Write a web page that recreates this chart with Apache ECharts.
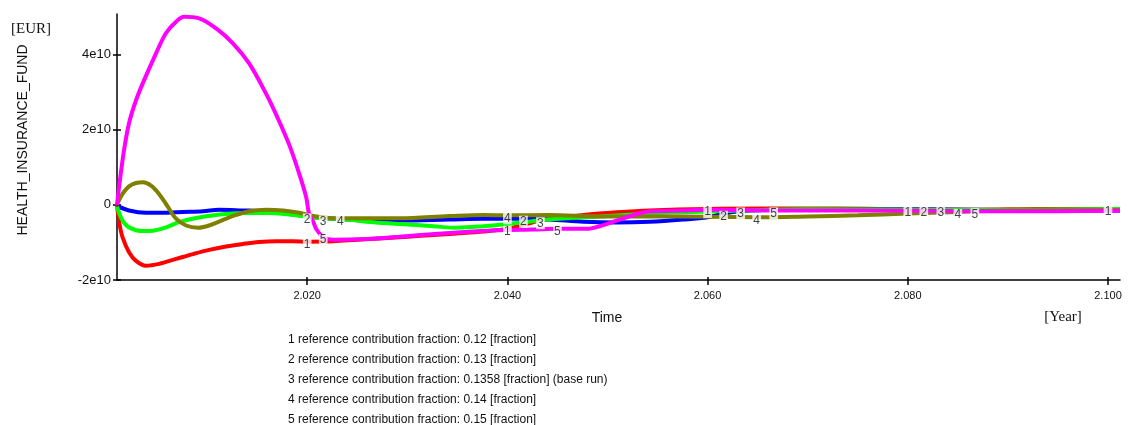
<!DOCTYPE html>
<html><head><meta charset="utf-8">
<script src="https://cdn.jsdelivr.net/npm/echarts@6/dist/echarts.min.js"></script>
<style>html,body{margin:0;padding:0;background:#fff}#c{width:1130px;height:425px}</style>
</head><body><div id="c"></div>
<script>
const seriesNames = ['1','2','3','4','5'];
const legendTexts = [
  '1 reference contribution fraction: 0.12 [fraction]',
  '2 reference contribution fraction: 0.13 [fraction]',
  '3 reference contribution fraction: 0.1358 [fraction] (base run)',
  '4 reference contribution fraction: 0.14 [fraction]',
  '5 reference contribution fraction: 0.15 [fraction]'
];
const colors = ['#ff0000','#0000ff','#00ff00','#808000','#ff00ff'];
const xTicks = [2020, 2040, 2060, 2080, 2100];
const yTicks = [-2e10, 0, 2e10, 4e10];

const s1 = [[2001,0],[2001.25,-0.51e10],[2001.55,-0.86e10],[2002.2,-1.26e10],[2002.9,-1.49e10],[2003.9,-1.62e10],[2005.2,-1.57e10],[2006.9,-1.44e10],[2008.6,-1.31e10],[2010.2,-1.2e10],[2011.9,-1.11e10],[2013.6,-1.04e10],[2015.2,-0.99e10],[2016.9,-0.97e10],[2018.6,-0.97e10],[2020,-0.98e10],[2022.6,-0.97e10],[2025,-0.93e10],[2027.6,-0.89e10],[2030,-0.85e10],[2032.6,-0.8e10],[2035,-0.76e10],[2037.6,-0.71e10],[2040,-0.64e10],[2041.2,-0.56e10],[2042.5,-0.47e10],[2044.2,-0.37e10],[2047.6,-0.27e10],[2050.9,-0.2e10],[2054.2,-0.15e10],[2060,-0.11e10],[2066,-0.1e10],[2073,-0.1e10],[2080,-0.12e10],[2087,-0.13e10],[2093,-0.11e10],[2100,-0.11e10],[2101.2,-0.11e10]];
const s2 = [[2001,-0.03e10],[2002.2,-0.15e10],[2003.9,-0.21e10],[2005.6,-0.21e10],[2007.6,-0.19e10],[2009.6,-0.17e10],[2011.2,-0.13e10],[2013.6,-0.15e10],[2015.6,-0.17e10],[2017.6,-0.22e10],[2020,-0.31e10],[2022,-0.36e10],[2024.2,-0.39e10],[2029.2,-0.42e10],[2034.2,-0.39e10],[2037.6,-0.37e10],[2041.6,-0.37e10],[2044.2,-0.39e10],[2047.6,-0.45e10],[2050.9,-0.47e10],[2054.2,-0.45e10],[2057.6,-0.39e10],[2060,-0.33e10],[2061.6,-0.24e10],[2063,-0.18e10],[2066,-0.14e10],[2070,-0.13e10],[2081.6,-0.12e10],[2090,-0.14e10],[2101.2,-0.15e10]];
const s3 = [[2001,-0.05e10],[2001.55,-0.42e10],[2002.2,-0.6e10],[2003.6,-0.7e10],[2004.6,-0.69e10],[2005.9,-0.6e10],[2007.2,-0.46e10],[2008.9,-0.35e10],[2010.9,-0.27e10],[2013.6,-0.22e10],[2016.2,-0.22e10],[2018.2,-0.26e10],[2019.9,-0.31e10],[2021.6,-0.36e10],[2024.2,-0.4e10],[2025.9,-0.45e10],[2029.2,-0.51e10],[2032.6,-0.57e10],[2034.9,-0.61e10],[2037.6,-0.57e10],[2039.9,-0.51e10],[2041.2,-0.48e10],[2043.3,-0.41e10],[2045.9,-0.36e10],[2049.2,-0.31e10],[2052.6,-0.26e10],[2055.9,-0.21e10],[2060,-0.18e10],[2063.3,-0.15e10],[2070,-0.12e10],[2083.3,-0.13e10],[2090,-0.13e10],[2101.2,-0.11e10]];
const s4 = [[2001,0],[2001.55,0.29e10],[2002.2,0.49e10],[2002.9,0.58e10],[2003.6,0.6e10],[2004.4,0.51e10],[2005.2,0.29e10],[2006.1,-0.06e10],[2006.9,-0.37e10],[2007.9,-0.55e10],[2009.1,-0.61e10],[2010.2,-0.55e10],[2011.6,-0.4e10],[2012.9,-0.27e10],[2014.2,-0.17e10],[2015.9,-0.13e10],[2017.6,-0.15e10],[2019.2,-0.21e10],[2020.9,-0.31e10],[2023.3,-0.36e10],[2029.2,-0.36e10],[2034.2,-0.3e10],[2037.6,-0.27e10],[2040,-0.28e10],[2044.2,-0.27e10],[2049.2,-0.31e10],[2054.2,-0.31e10],[2060,-0.32e10],[2064.9,-0.33e10],[2070,-0.31e10],[2075,-0.28e10],[2080,-0.23e10],[2085,-0.19e10],[2090,-0.15e10],[2101.2,-0.14e10]];
const s5 = [[2001,0],[2001.2,0.46e10],[2001.7,1.45e10],[2002.2,2.17e10],[2002.9,2.78e10],[2003.7,3.31e10],[2004.9,4.03e10],[2005.9,4.57e10],[2006.9,4.87e10],[2007.7,5.0e10],[2009.2,4.96e10],[2010.9,4.69e10],[2012.6,4.29e10],[2014.2,3.76e10],[2015.9,2.95e10],[2017.0,2.34e10],[2018.2,1.6e10],[2019.2,0.83e10],[2019.9,0.2e10],[2020.2,-0.25e10],[2020.6,-0.45e10],[2020.9,-0.64e10],[2021.6,-0.86e10],[2022.6,-0.93e10],[2025.9,-0.91e10],[2029.2,-0.85e10],[2034.2,-0.75e10],[2037.9,-0.69e10],[2040,-0.67e10],[2042.6,-0.66e10],[2045,-0.64e10],[2047.9,-0.64e10],[2049.2,-0.57e10],[2050.9,-0.42e10],[2052.6,-0.27e10],[2054.2,-0.18e10],[2057.6,-0.15e10],[2060,-0.13e10],[2066.6,-0.15e10],[2075,-0.15e10],[2086.7,-0.17e10],[2095,-0.17e10],[2101.2,-0.16e10]];
const allSeries = [s1, s2, s3, s4, s5];
const labelYears = [
  [2020, 2040, 2060, 2080, 2100],
  [2020, 2041.6, 2061.6, 2081.6],
  [2021.6, 2043.3, 2063.3, 2083.3],
  [2023.3, 2040, 2064.9, 2085],
  [2021.6, 2045, 2066.6, 2086.7]
];

const FONT = '"Liberation Sans", Arial, sans-serif';
const SERIF = '"Liberation Serif", "Times New Roman", serif';

function fmtYear(v){ return String(v).replace(/(\d)(?=(\d{3})+$)/, '$1.'); }
function fmtY(v){ return v === 0 ? '0' : (v/1e10) + 'e10'; }

const lineSeries = allSeries.map((arr, k) => ({
  type: 'line',
  smooth: 0.35,
  showSymbol: false,
  lineStyle: { color: colors[k], width: 4 },
  itemStyle: { color: colors[k] },
  emphasis: { disabled: true },
  z: 2 + k,
  data: arr
}));

const labelSeries = allSeries.map((arr, k) => ({
  type: 'scatter',
  symbol: 'circle',
  symbolSize: 0.01,
  itemStyle: { color: colors[k] },
  emphasis: { disabled: true },
  silent: true,
  z: 20,
  label: {
    show: true, formatter: seriesNames[k], position: 'inside', offset: [0, 3],
    fontFamily: FONT, fontSize: 12, color: '#111',
    backgroundColor: '#fff', padding: [0, 1, 0, 1]
  },
  data: arr.filter(p => labelYears[k].indexOf(p[0]) >= 0)
}));

const graphics = [
  { type: 'text', x: 11, y: 29, style: { text: '[EUR]', font: '15px ' + SERIF, fill: '#111', align: 'left', verticalAlign: 'middle' } },
  { type: 'text', x: 23, y: 140, rotation: Math.PI / 2, style: { text: 'HEALTH_INSURANCE_FUND', font: '14px ' + FONT, fill: '#111', align: 'center', verticalAlign: 'middle' } },
  { type: 'text', x: 607, y: 318, style: { text: 'Time', font: '14px ' + FONT, fill: '#111', align: 'center', verticalAlign: 'middle' } },
  { type: 'text', x: 1063, y: 317, style: { text: '[Year]', font: '15px ' + SERIF, fill: '#111', align: 'center', verticalAlign: 'middle' } }
].concat(legendTexts.map((t, i) => ({
  type: 'text', x: 288, y: 340 + i * 20,
  style: { text: t, font: '12px ' + FONT, fill: '#111', align: 'left', verticalAlign: 'middle' }
})));

const chart = echarts.init(document.getElementById('c'));
chart.setOption({
  animation: false,
  backgroundColor: '#fff',
  grid: { left: 117, right: 10, top: 14, bottom: 145 },
  xAxis: [
    { type: 'value', min: 2001, max: 2101.2, splitLine: { show: false },
      axisLine: { onZero: false, lineStyle: { color: '#000', width: 1.5 } },
      axisTick: { show: true, length: 5, customValues: xTicks, lineStyle: { color: '#000', width: 1.5 } },
      axisLabel: { customValues: xTicks, formatter: fmtYear, fontFamily: FONT, fontSize: 11, color: '#111', margin: 10 } },
    { type: 'value', min: 2001, max: 2101.2, position: 'bottom', splitLine: { show: false },
      axisLine: { show: false, onZero: false },
      axisTick: { show: true, inside: true, length: 3, customValues: xTicks, lineStyle: { color: '#000', width: 1.5 } },
      axisLabel: { show: false } }
  ],
  yAxis: [
    { type: 'value', min: -2e10, max: 5.075e10, splitLine: { show: false },
      axisLine: { show: true, onZero: false, lineStyle: { color: '#000', width: 1.5 } },
      axisTick: { show: true, length: 4, customValues: yTicks, lineStyle: { color: '#000', width: 1.5 } },
      axisLabel: { customValues: yTicks, formatter: fmtY, fontFamily: FONT, fontSize: 13, color: '#111', margin: 6 } },
    { type: 'value', min: -2e10, max: 5.075e10, position: 'left', splitLine: { show: false },
      axisLine: { show: false, onZero: false },
      axisTick: { show: true, inside: true, length: 4, customValues: yTicks, lineStyle: { color: '#000', width: 1.5 } },
      axisLabel: { show: false } }
  ],
  graphic: graphics,
  series: lineSeries.concat(labelSeries)
});
</script>
</body></html>
